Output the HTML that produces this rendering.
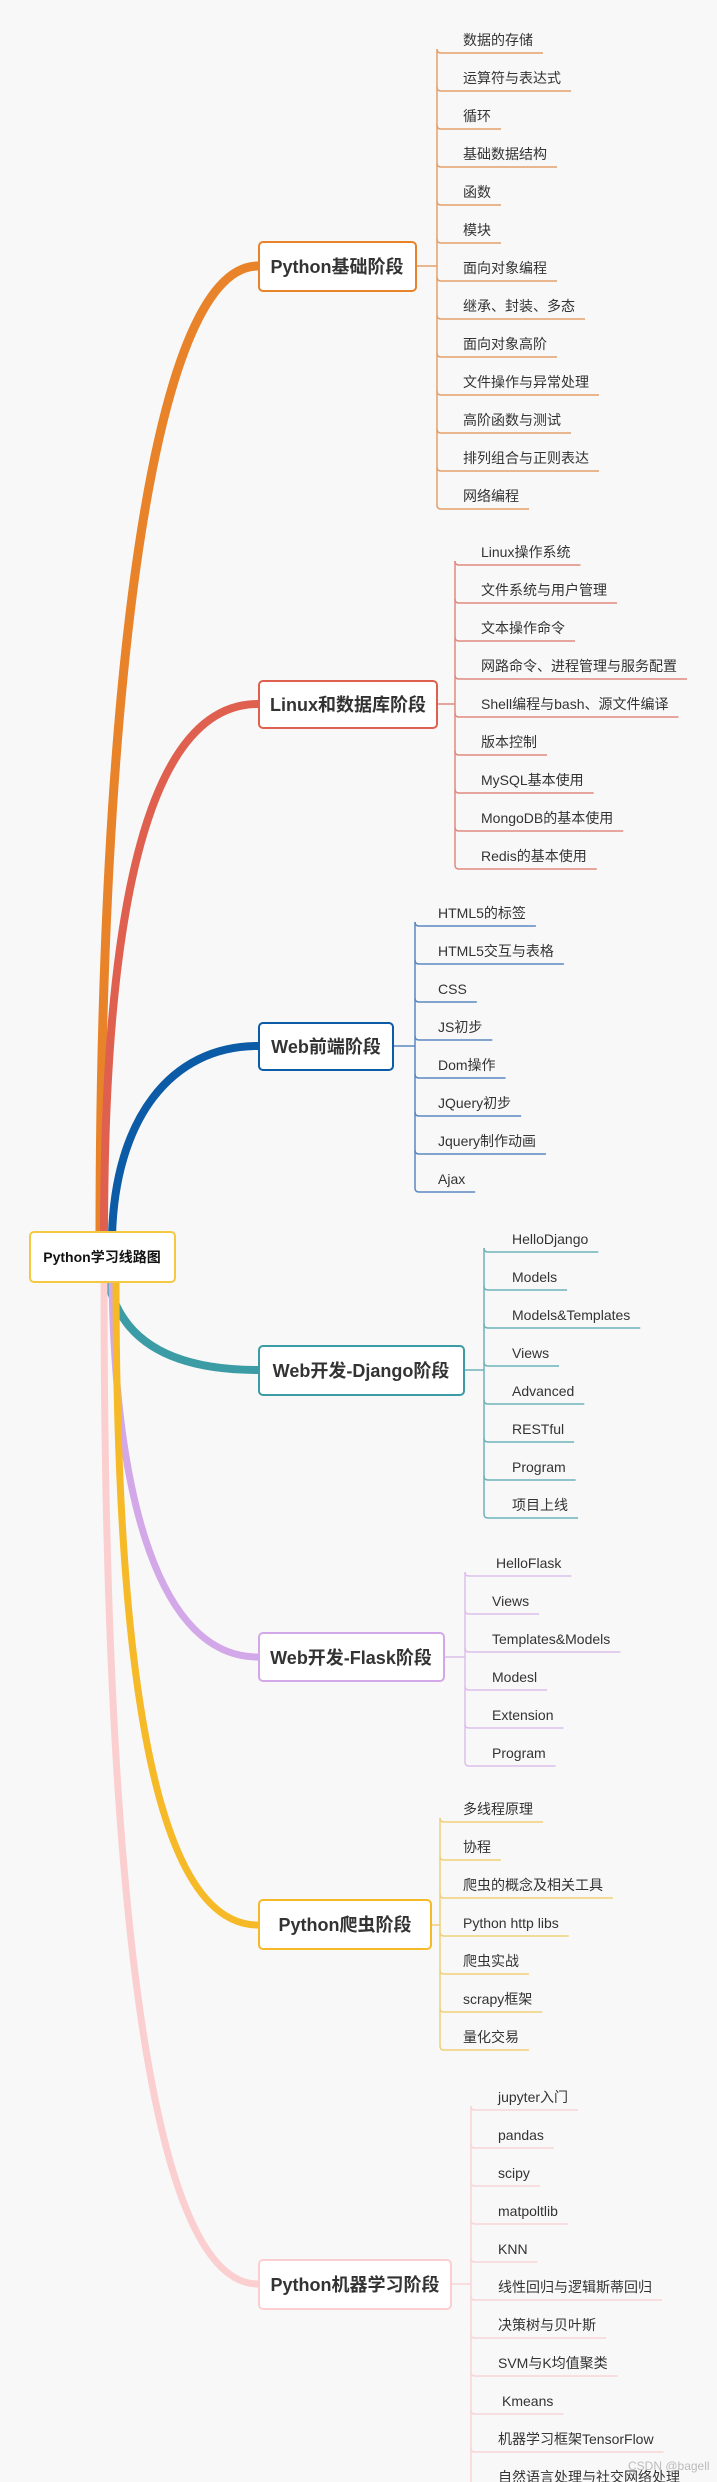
<!DOCTYPE html>
<html><head><meta charset="utf-8">
<style>
html,body{margin:0;padding:0;background:#f8f8f8;}
svg{display:block;}
text{font-family:"Liberation Sans","Noto Sans CJK SC",sans-serif;}
.it{font-size:14px;fill:#333;}
.bx{font-size:18px;font-weight:bold;fill:#333;}
</style></head><body>
<svg id="s" width="717" height="2482" viewBox="0 0 717 2482" xmlns="http://www.w3.org/2000/svg">
<rect width="717" height="2482" fill="#f8f8f8"/>
<g fill="none" stroke-linecap="round">
<path d="M100,1236 C100,700 150,266 258,266" stroke="#e8832a" stroke-width="9"/>
<path d="M104,1236 C104,900 150,704 258,704" stroke="#e0604f" stroke-width="8"/>
<path d="M112,1236 C115,1120 170,1046 258,1046" stroke="#0c5ba6" stroke-width="8"/>
<path d="M108,1280 C120,1340 170,1370 258,1370" stroke="#3c9ca5" stroke-width="8"/>
<path d="M112,1280 C115,1500 160,1657 258,1657" stroke="#d3a8e8" stroke-width="7"/>
<path d="M116,1280 C116,1700 160,1925 258,1925" stroke="#f6b928" stroke-width="7"/>
<path d="M104,1280 C104,1900 150,2284 258,2284" stroke="#fbcfcf" stroke-width="7"/>
</g>
<g id="lines"></g>
<rect x="30" y="1232" width="145" height="50" rx="4" fill="#fff" stroke="#f5c842" stroke-width="2"/>
<text x="102" y="1262" text-anchor="middle" style="font-size:14px;font-weight:bold;fill:#111">Python学习线路图</text>
<rect x="259" y="242" width="157" height="49" rx="4" fill="#fff" stroke="#e8832a" stroke-width="2"/>
<text class="bx" x="337" y="273" text-anchor="middle">Python基础阶段</text>
<rect x="259" y="681" width="178" height="47" rx="4" fill="#fff" stroke="#e0604f" stroke-width="2"/>
<text class="bx" x="348" y="711" text-anchor="middle">Linux和数据库阶段</text>
<rect x="259" y="1023" width="134" height="47" rx="4" fill="#fff" stroke="#0c5ba6" stroke-width="2"/>
<text class="bx" x="326" y="1053" text-anchor="middle">Web前端阶段</text>
<rect x="259" y="1346" width="205" height="49" rx="4" fill="#fff" stroke="#3c9ca5" stroke-width="2"/>
<text class="bx" x="361" y="1377" text-anchor="middle">Web开发-Django阶段</text>
<rect x="259" y="1633" width="185" height="48" rx="4" fill="#fff" stroke="#d3a8e8" stroke-width="2"/>
<text class="bx" x="351" y="1664" text-anchor="middle">Web开发-Flask阶段</text>
<rect x="259" y="1900" width="172" height="49" rx="4" fill="#fff" stroke="#f6b928" stroke-width="2"/>
<text class="bx" x="345" y="1931" text-anchor="middle">Python爬虫阶段</text>
<rect x="259" y="2260" width="192" height="49" rx="4" fill="#fff" stroke="#fbcfcf" stroke-width="2"/>
<text class="bx" x="355" y="2291" text-anchor="middle">Python机器学习阶段</text>

<g id="g1" class="it">
<text x="463" y="45">数据的存储</text><text x="463" y="83">运算符与表达式</text><text x="463" y="121">循环</text><text x="463" y="159">基础数据结构</text><text x="463" y="197">函数</text><text x="463" y="235">模块</text><text x="463" y="273">面向对象编程</text><text x="463" y="311">继承、封装、多态</text><text x="463" y="349">面向对象高阶</text><text x="463" y="387">文件操作与异常处理</text><text x="463" y="425">高阶函数与测试</text><text x="463" y="463">排列组合与正则表达</text><text x="463" y="501">网络编程</text>
</g>
<g id="g2" class="it">
<text x="481" y="557">Linux操作系统</text><text x="481" y="595">文件系统与用户管理</text><text x="481" y="633">文本操作命令</text><text x="481" y="671">网路命令、进程管理与服务配置</text><text x="481" y="709">Shell编程与bash、源文件编译</text><text x="481" y="747">版本控制</text><text x="481" y="785">MySQL基本使用</text><text x="481" y="823">MongoDB的基本使用</text><text x="481" y="861">Redis的基本使用</text>
</g>
<g id="g3" class="it">
<text x="438" y="918">HTML5的标签</text><text x="438" y="956">HTML5交互与表格</text><text x="438" y="994">CSS</text><text x="438" y="1032">JS初步</text><text x="438" y="1070">Dom操作</text><text x="438" y="1108">JQuery初步</text><text x="438" y="1146">Jquery制作动画</text><text x="438" y="1184">Ajax</text>
</g>
<g id="g4" class="it">
<text x="512" y="1244">HelloDjango</text><text x="512" y="1282">Models</text><text x="512" y="1320">Models&amp;Templates</text><text x="512" y="1358">Views</text><text x="512" y="1396">Advanced</text><text x="512" y="1434">RESTful</text><text x="512" y="1472">Program</text><text x="512" y="1510">项目上线</text>
</g>
<g id="g5" class="it">
<text x="496" y="1568">HelloFlask</text><text x="492" y="1606">Views</text><text x="492" y="1644">Templates&amp;Models</text><text x="492" y="1682">Modesl</text><text x="492" y="1720">Extension</text><text x="492" y="1758">Program</text>
</g>
<g id="g6" class="it">
<text x="463" y="1814">多线程原理</text><text x="463" y="1852">协程</text><text x="463" y="1890">爬虫的概念及相关工具</text><text x="463" y="1928">Python http libs</text><text x="463" y="1966">爬虫实战</text><text x="463" y="2004">scrapy框架</text><text x="463" y="2042">量化交易</text>
</g>
<g id="g7" class="it">
<text x="498" y="2102">jupyter入门</text><text x="498" y="2140">pandas</text><text x="498" y="2178">scipy</text><text x="498" y="2216">matpoltlib</text><text x="498" y="2254">KNN</text><text x="498" y="2292">线性回归与逻辑斯蒂回归</text><text x="498" y="2330">决策树与贝叶斯</text><text x="498" y="2368">SVM与K均值聚类</text><text x="502" y="2406">Kmeans</text><text x="498" y="2444">机器学习框架TensorFlow</text><text x="498" y="2482">自然语言处理与社交网络处理</text>
</g>
<text x="628" y="2470" style="font-size:12px;fill:#bbb">CSDN @bagell</text>
</svg>
<script>
var cfg=[["g1",437,416,266,"#e4a06a"],["g2",455,437,704,"#e08a80"],["g3",415,393,1046,"#5a88c0"],["g4",484,464,1370,"#6fb3b9"],["g5",465,444,1657,"#dcc0ea"],["g6",440,431,1925,"#efcf78"],["g7",471,451,2284,"#f8d6d6"]];
var NS="http://www.w3.org/2000/svg",L=document.getElementById("lines");
function ln(d,c){var p=document.createElementNS(NS,"path");p.setAttribute("d",d);p.setAttribute("stroke",c);p.setAttribute("stroke-width","1.5");p.setAttribute("fill","none");L.appendChild(p);}
cfg.forEach(function(c){var t=document.getElementById(c[0]).getElementsByTagName("text");var ys=[];
for(var i=0;i<t.length;i++){var y=+t[i].getAttribute("y")+8;var x=+t[i].getAttribute("x");var w=t[i].getComputedTextLength();ys.push(y);
ln("M"+c[1]+","+(y-4)+" Q"+c[1]+","+y+" "+(c[1]+4)+","+y+" L"+(x+w+10)+","+y,c[4]);}
ln("M"+c[1]+","+(ys[0]-4)+" L"+c[1]+","+(ys[ys.length-1]-4),c[4]);
ln("M"+c[2]+","+c[3]+" L"+c[1]+","+c[3],c[4]);});
</script>
</body></html>
